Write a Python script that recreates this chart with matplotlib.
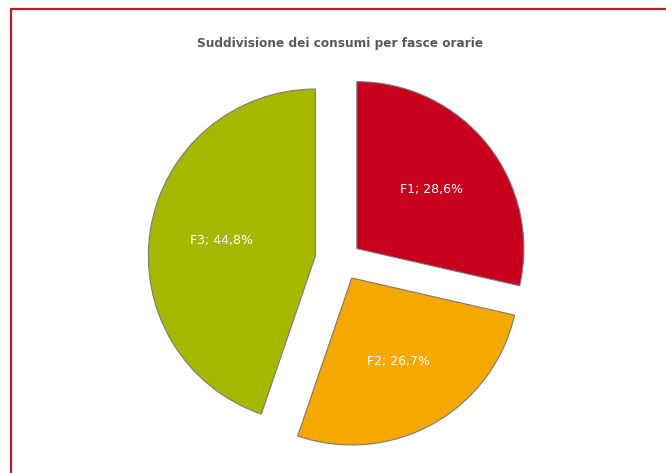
import matplotlib
matplotlib.use("Agg")
import matplotlib.pyplot as plt
from matplotlib.patches import Rectangle

categories = ["F1", "F2", "F3"]
values = [28.6, 26.7, 44.8]
labels = ["F1; 28,6%", "F2; 26,7%", "F3; 44,8%"]
colors = ["#C8001E", "#F5A800", "#A5B800"]
explode_px = [19, 20, 27]

W, H = 666, 473
R = 167
fig = plt.figure(figsize=(W / 100, H / 100), dpi=100)
ax = fig.add_axes([0, 0, 1, 1])

wedges, texts = ax.pie(
    values, labels=labels, colors=colors, explode=explode_px,
    startangle=90, counterclock=False, radius=R, center=(342, H - 260.5),
    labeldistance=0.57, frame=True,
    wedgeprops=dict(edgecolor="#7a7a7a", linewidth=0.8),
    textprops=dict(color="white", fontsize=9, family="DejaVu Sans"),
)
for t in texts:
    t.set_ha("center")
    t.set_va("center")
ax.set_xlim(0, W)
ax.set_ylim(0, H)
ax.set_aspect("equal")
ax.axis("off")

fig.text(340 / W, 1 - 44 / H, "Suddivisione dei consumi per fasce orarie",
         ha="center", va="center", fontsize=8.7, fontweight="bold",
         color="#595959", family="DejaVu Sans")

fig.patches.append(Rectangle((11 / W, -0.1), 1.2, 1 - 9 / H + 0.1,
                             transform=fig.transFigure, fill=False,
                             edgecolor="#B01E2A", linewidth=1.6))

fig.savefig("out.png", dpi=100)
